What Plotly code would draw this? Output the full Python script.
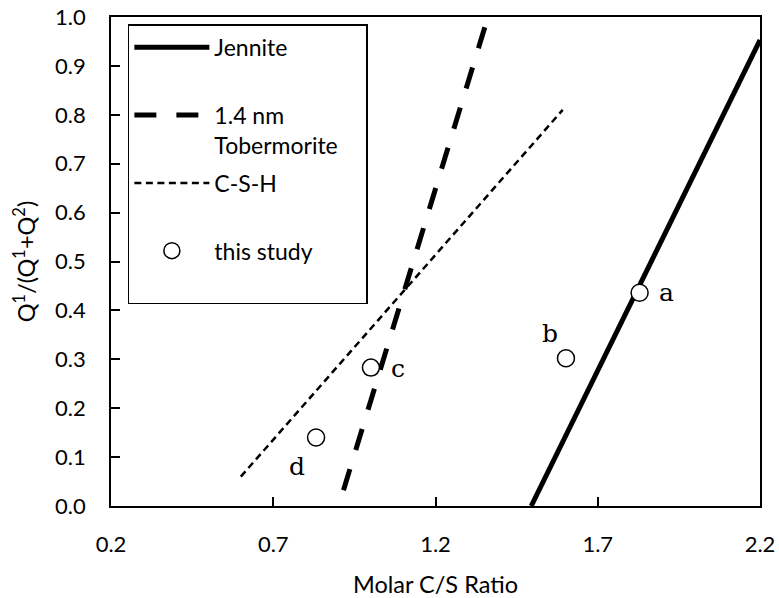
import plotly.graph_objects as go

# Data
jennite_x = [1.495, 2.2]
jennite_y = [0.0, 0.953]

tober_x = [1.352, 0.9015]
tober_y = [0.979, 0.0]

csh_x = [0.60, 1.592]
csh_y = [0.06, 0.81]

study_x = [1.829, 1.602, 1.001, 0.832]
study_y = [0.436, 0.302, 0.283, 0.140]
study_labels = ["a", "b", "c", "d"]
label_shift_x = [27, -16, 27, -19]
label_shift_y = [0, 25, -1, -29]

x_ticks = [0.2, 0.7, 1.2, 1.7, 2.2]
y_ticks = [0.0, 0.1, 0.2, 0.3, 0.4, 0.5, 0.6, 0.7, 0.8, 0.9, 1.0]

legend_names = ["Jennite<br>&nbsp;",
                "1.4 nm<br>Tobermorite&nbsp;&nbsp;&nbsp;&nbsp;",
                "C-S-H<br>&nbsp;", "this study<br>&nbsp;"]

sans = "Lato"
fig = go.Figure()

fig.add_trace(go.Scatter(x=jennite_x, y=jennite_y, mode="lines", name=legend_names[0],
                         legendgroup="g1",
                         line=dict(color="black", width=5)))
fig.add_trace(go.Scatter(x=tober_x, y=tober_y, mode="lines", name=legend_names[1],
                         legendgroup="g2",
                         line=dict(color="black", width=5, dash="22px,20px")))
fig.add_trace(go.Scatter(x=csh_x, y=csh_y, mode="lines", name=legend_names[2],
                         legendgroup="g3",
                         line=dict(color="black", width=2.5, dash="7px,4.5px")))
fig.add_trace(go.Scatter(x=study_x, y=study_y, mode="markers", name=legend_names[3],
                         legendgroup="g4",
                         marker=dict(symbol="circle", size=17, color="white",
                                     line=dict(color="black", width=1.5))))

for xv, yv, t, dx, dy in zip(study_x, study_y, study_labels, label_shift_x, label_shift_y):
    fig.add_annotation(x=xv, y=yv, text=t, showarrow=False, xshift=dx, yshift=dy,
                       font=dict(family="DejaVu Serif", size=25, color="black"))

axis_common = dict(showgrid=False, zeroline=False, showline=True, linecolor="black",
                   linewidth=1.8, mirror=True, ticks="inside", ticklen=9, tickwidth=1.5,
                   tickcolor="black", tickfont=dict(family=sans, size=22, color="black"))

fig.update_xaxes(range=[0.2, 2.2], tickvals=x_ticks, ticktext=[f"{v:.1f}" for v in x_ticks],
                 ticklabelstandoff=18,
                 title=dict(text="Molar C/S Ratio", font=dict(family=sans, size=23.5, color="black"),
                            standoff=22),
                 **axis_common)
fig.update_yaxes(range=[0.0, 1.0], tickvals=y_ticks, ticktext=[f"{v:.1f}" for v in y_ticks],
                 ticklabelstandoff=19,
                 title=dict(text="Q<sup>1</sup>/(Q<sup>1</sup>+Q<sup>2</sup>)",
                            font=dict(family=sans, size=23.5, color="black"), standoff=13),
                 **axis_common)

fig.update_layout(
    width=779, height=598,
    margin=dict(l=111, r=19, t=17, b=92, autoexpand=False),
    plot_bgcolor="white", paper_bgcolor="white",
    showlegend=True,
    legend=dict(x=0.026, y=0.985, xanchor="left", yanchor="top",
                bordercolor="black", borderwidth=1.5, bgcolor="white",
                font=dict(family=sans, size=23, color="black"),
                tracegroupgap=5, valign="top", itemwidth=75),
)

fig.write_html("out.html", config={"displayModeBar": False},
               post_script="document.body.style.margin='0px';document.body.style.overflow='hidden';")
